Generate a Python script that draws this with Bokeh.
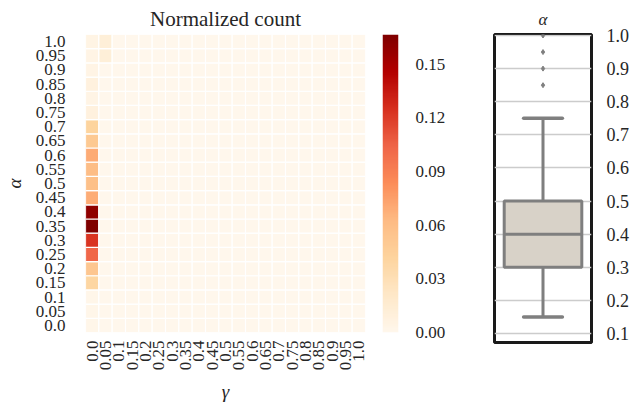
import numpy as np
from bokeh.plotting import figure
from bokeh.models import ColumnDataSource, LinearColorMapper, FixedTicker, PrintfTickFormatter
from bokeh.layouts import row
from bokeh.embed import file_html
from bokeh.resources import INLINE
from bokeh.transform import transform

# ---------------- data ----------------
gamma_labels = ["0.0", "0.05", "0.1", "0.15", "0.2", "0.25", "0.3", "0.35", "0.4", "0.45", "0.5",
                "0.55", "0.6", "0.65", "0.7", "0.75", "0.8", "0.85", "0.9", "0.95", "1.0"]
alpha_labels = ["0.0", "0.05", "0.1", "0.15", "0.2", "0.25", "0.3", "0.35", "0.4", "0.45", "0.5",
                "0.55", "0.6", "0.65", "0.7", "0.75", "0.8", "0.85", "0.9", "0.95", "1.0"]

# normalized count, one row per alpha (0.0 ... 1.0), one column per gamma (0.0 ... 1.0)
counts_by_alpha = [
    [0.002, 0, 0, 0, 0, 0, 0, 0, 0, 0, 0, 0, 0, 0, 0, 0, 0, 0, 0, 0, 0],      # 0.0
    [0.002, 0, 0, 0, 0, 0, 0, 0, 0, 0, 0, 0, 0, 0, 0, 0, 0, 0, 0, 0, 0],      # 0.05
    [0.002, 0, 0, 0, 0, 0, 0, 0, 0, 0, 0, 0, 0, 0, 0, 0, 0, 0, 0, 0, 0],      # 0.1
    [0.040, 0, 0, 0, 0, 0, 0, 0, 0, 0, 0, 0, 0, 0, 0, 0, 0, 0, 0, 0, 0],      # 0.15
    [0.053, 0, 0, 0, 0, 0, 0, 0, 0, 0, 0, 0, 0, 0, 0, 0, 0, 0, 0, 0, 0],      # 0.2
    [0.103, 0, 0, 0, 0, 0, 0, 0, 0, 0, 0, 0, 0, 0, 0, 0, 0, 0, 0, 0, 0],      # 0.25
    [0.123, 0, 0, 0, 0, 0, 0, 0, 0, 0, 0, 0, 0, 0, 0, 0, 0, 0, 0, 0, 0],      # 0.3
    [0.1666, 0, 0, 0, 0, 0, 0, 0, 0, 0, 0, 0, 0, 0, 0, 0, 0, 0, 0, 0, 0],     # 0.35
    [0.160, 0, 0, 0, 0, 0, 0, 0, 0, 0, 0, 0, 0, 0, 0, 0, 0, 0, 0, 0, 0],      # 0.4
    [0.069, 0, 0, 0, 0, 0, 0, 0, 0, 0, 0, 0, 0, 0, 0, 0, 0, 0, 0, 0, 0],      # 0.45
    [0.058, 0, 0, 0, 0, 0, 0, 0, 0, 0, 0, 0, 0, 0, 0, 0, 0, 0, 0, 0, 0],      # 0.5
    [0.061, 0, 0, 0, 0, 0, 0, 0, 0, 0, 0, 0, 0, 0, 0, 0, 0, 0, 0, 0, 0],      # 0.55
    [0.070, 0, 0, 0, 0, 0, 0, 0, 0, 0, 0, 0, 0, 0, 0, 0, 0, 0, 0, 0, 0],      # 0.6
    [0.051, 0, 0, 0, 0, 0, 0, 0, 0, 0, 0, 0, 0, 0, 0, 0, 0, 0, 0, 0, 0],      # 0.65
    [0.042, 0, 0, 0, 0, 0, 0, 0, 0, 0, 0, 0, 0, 0, 0, 0, 0, 0, 0, 0, 0],      # 0.7
    [0.008, 0, 0, 0, 0, 0, 0, 0, 0, 0, 0, 0, 0, 0, 0, 0, 0, 0, 0, 0, 0],      # 0.75
    [0.004, 0, 0, 0, 0, 0, 0, 0, 0, 0, 0, 0, 0, 0, 0, 0, 0, 0, 0, 0, 0],      # 0.8
    [0.008, 0, 0, 0, 0, 0, 0, 0, 0, 0, 0, 0, 0, 0, 0, 0, 0, 0, 0, 0, 0],      # 0.85
    [0.004, 0, 0, 0, 0, 0, 0, 0, 0, 0, 0, 0, 0, 0, 0, 0, 0, 0, 0, 0, 0],      # 0.9
    [0.004, 0.012, 0, 0, 0, 0, 0, 0, 0, 0, 0, 0, 0, 0, 0, 0, 0, 0, 0, 0, 0],  # 0.95
    [0.005, 0.012, 0, 0, 0, 0, 0, 0, 0, 0, 0, 0, 0, 0, 0, 0, 0, 0, 0, 0, 0],  # 1.0
]
colorbar_ticks = [0.0, 0.03, 0.06, 0.09, 0.12, 0.15]
colorbar_max = 0.1666

# box plot of alpha
box_q1 = 0.3
box_median = 0.4
box_q3 = 0.5
whisker_low = 0.15
whisker_high = 0.75
outliers = [0.85, 0.9, 0.95, 1.0]
box_ticks = [0.1, 0.2, 0.3, 0.4, 0.5, 0.6, 0.7, 0.8, 0.9, 1.0]

# ---------------- style ----------------
FONT = "Liberation Serif"
TXT = "#262626"
orrd_stops = ["#fff7ec", "#fee8c8", "#fdd49e", "#fdbb84", "#fc8d59",
              "#ef6548", "#d7301f", "#b30000", "#7f0000"]


def interp_palette(stops, n=256):
    rgb = np.array([[int(c[i:i + 2], 16) for i in (1, 3, 5)] for c in stops], float)
    pos = np.linspace(0, 1, len(stops))
    out = []
    for tt in np.linspace(0, 1, n):
        r, g, b_ = (np.interp(tt, pos, rgb[:, k]) for k in range(3))
        out.append("#%02x%02x%02x" % (int(round(r)), int(round(g)), int(round(b_))))
    return out


palette = interp_palette(orrd_stops)
mapper = LinearColorMapper(palette=palette, low=0.0, high=colorbar_max)

xs, ys, vs = [], [], []
for i, rowvals in enumerate(counts_by_alpha):
    for j, v in enumerate(rowvals):
        xs.append(j)
        ys.append(i)
        vs.append(v)
src = ColumnDataSource(dict(x=xs, y=ys, v=vs))

TOP1 = 31
p = figure(frame_width=280, frame_height=298, x_range=(-0.5, 20.5), y_range=(-0.5, 20.5),
           output_backend="svg", toolbar_location=None, title="Normalized count",
           min_border_left=78, min_border_right=12, min_border_top=TOP1, min_border_bottom=68)
p.rect(x="x", y="y", width=1, height=1, source=src, fill_color=transform("v", mapper),
       line_color="white", line_width=1.2)
p.grid.visible = False
p.outline_line_color = None
p.title.text_font = FONT
p.title.text_font_size = "21px"
p.title.text_font_style = "normal"
p.title.text_color = TXT
p.title.align = "center"
p.title.standoff = 8

for ax, labels in ((p.xaxis[0], gamma_labels), (p.yaxis[0], alpha_labels)):
    ax.ticker = FixedTicker(ticks=list(range(len(labels))))
    ax.major_label_overrides = {k: lab for k, lab in enumerate(labels)}
    ax.axis_line_color = None
    ax.major_tick_line_color = None
    ax.minor_tick_line_color = None
    ax.major_tick_out = 0
    ax.major_label_text_font = FONT
    ax.major_label_text_font_size = "17px"
    ax.major_label_text_color = TXT
    ax.axis_label_text_font = FONT
    ax.axis_label_text_font_size = "19px"
    ax.axis_label_text_font_style = "italic"
    ax.axis_label_text_color = TXT

p.xaxis.axis_label = "γ"
p.yaxis.axis_label = "α"
p.xaxis.major_label_orientation = np.pi / 2
p.xaxis.major_label_standoff = 8
p.xaxis.axis_label_standoff = 8
p.yaxis.major_label_standoff = 20
p.yaxis.axis_label_standoff = 8

# ---------------- colour bar (own small frame) ----------------
c = figure(frame_width=16, frame_height=298, x_range=(0, 1), y_range=(0, colorbar_max),
           output_backend="svg", toolbar_location=None, y_axis_location="right",
           min_border_left=5, min_border_right=79, min_border_top=TOP1, min_border_bottom=68)
c.image(image=[np.linspace(0, colorbar_max, 256).reshape(256, 1)], x=0, y=0, dw=1,
        dh=colorbar_max, color_mapper=mapper)
c.xaxis.visible = False
c.grid.visible = False
c.outline_line_color = None
ca = c.yaxis[0]
ca.ticker = FixedTicker(ticks=colorbar_ticks)
ca.formatter = PrintfTickFormatter(format="%.2f")
ca.axis_line_color = None
ca.major_tick_line_color = None
ca.minor_tick_line_color = None
ca.major_tick_out = 0
ca.major_label_standoff = 17
ca.major_label_text_font = FONT
ca.major_label_text_font_size = "17px"
ca.major_label_text_color = TXT

# ---------------- box plot ----------------
GRAY = "#7f7f7f"
b = figure(frame_width=97, frame_height=308, x_range=(-0.5, 0.5), y_range=(0.073, 1.003),
           output_backend="svg", toolbar_location=None, title="α", y_axis_location="right",
           min_border_left=17, min_border_right=38, min_border_top=TOP1 - 1, min_border_bottom=58)
b.xaxis.visible = False
b.xgrid.visible = False
b.ygrid.ticker = FixedTicker(ticks=box_ticks)
b.ygrid.grid_line_color = "#cccccc"
b.ygrid.grid_line_width = 1.5
b.outline_line_color = "#1a1a1a"
b.outline_line_width = 3
b.title.text_font = FONT
b.title.text_font_size = "17px"
b.title.text_font_style = "italic"
b.title.text_color = TXT
b.title.align = "center"
b.title.standoff = 11
ya = b.yaxis[0]
ya.ticker = FixedTicker(ticks=box_ticks)
ya.formatter = PrintfTickFormatter(format="%.1f")
ya.axis_line_color = None
ya.major_tick_line_color = None
ya.minor_tick_line_color = None
ya.major_tick_out = 0
ya.major_label_standoff = 15
ya.major_label_text_font = FONT
ya.major_label_text_font_size = "18px"
ya.major_label_text_color = TXT

b.segment(x0=[0, 0], y0=[box_q3, box_q1], x1=[0, 0], y1=[whisker_high, whisker_low],
          line_color=GRAY, line_width=3)
b.segment(x0=[-0.2, -0.2], y0=[whisker_high, whisker_low], x1=[0.2, 0.2],
          y1=[whisker_high, whisker_low], line_color=GRAY, line_width=3.5, line_cap="round")
b.quad(left=[-0.4], right=[0.4], bottom=[box_q1], top=[box_q3], fill_color="#d8d2c8",
       line_color=GRAY, line_width=3)
b.segment(x0=[-0.4], y0=[box_median], x1=[0.4], y1=[box_median], line_color=GRAY, line_width=3)
b.scatter(x=[0] * len(outliers), y=outliers, marker="diamond", size=5, color=GRAY)

layout = row(p, c, b)
open("out.html", "w").write(file_html(layout, INLINE))
